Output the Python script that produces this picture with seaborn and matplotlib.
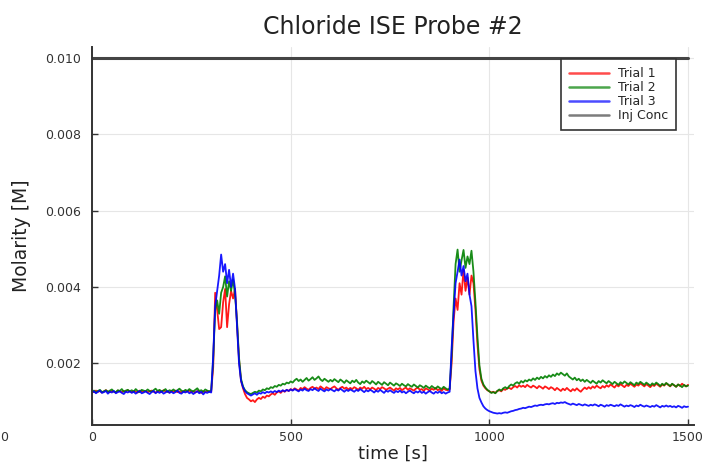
import numpy as np
import pandas as pd
import matplotlib
matplotlib.use("Agg")
import matplotlib.pyplot as plt
import seaborn as sns

# Sampling grid: one reading every 5 s over the 1500 s run
t_step = 5
t_end = 1500

# Chloride concentration readings in mmol/L, one list per trial
trial_1_mM = [
    1.27, 1.25, 1.29, 1.26, 1.28, 1.24, 1.27, 1.30, 1.26, 1.25,
    1.28, 1.26, 1.24, 1.29, 1.27, 1.25, 1.28, 1.26, 1.30, 1.27,
    1.25, 1.28, 1.26, 1.24, 1.29, 1.27, 1.26, 1.28, 1.25, 1.27,
    1.29, 1.26, 1.24, 1.27, 1.28, 1.25, 1.30, 1.27, 1.26, 1.24,
    1.28, 1.26, 1.29, 1.25, 1.27, 1.24, 1.28, 1.26, 1.27, 1.29,
    1.25, 1.27, 1.24, 1.28, 1.26, 1.23, 1.27, 1.25, 1.28, 1.26,
    1.27, 1.90, 3.85, 3.40, 2.90, 2.95, 3.60, 3.95, 2.95, 3.55,
    3.90, 3.70, 3.95, 3.00, 2.10, 1.55, 1.35, 1.20, 1.10, 1.06,
    1.01, 1.04, 0.99, 1.06, 1.10, 1.07, 1.13, 1.10, 1.16, 1.14,
    1.19, 1.22, 1.18, 1.24, 1.27, 1.23, 1.29, 1.26, 1.31, 1.28,
    1.33, 1.30, 1.35, 1.32, 1.29, 1.36, 1.33, 1.38, 1.34, 1.31,
    1.36, 1.39, 1.34, 1.37, 1.33, 1.40, 1.36, 1.32, 1.38, 1.35,
    1.33, 1.37, 1.40, 1.35, 1.31, 1.36, 1.39, 1.34, 1.37, 1.32,
    1.36, 1.33, 1.38, 1.35, 1.31, 1.37, 1.34, 1.39, 1.33, 1.36,
    1.32, 1.37, 1.34, 1.30, 1.36, 1.33, 1.38, 1.35, 1.31, 1.34,
    1.37, 1.33, 1.29, 1.35, 1.32, 1.36, 1.30, 1.34, 1.37, 1.31,
    1.35, 1.32, 1.29, 1.34, 1.37, 1.31, 1.33, 1.28, 1.35, 1.32,
    1.29, 1.34, 1.31, 1.36, 1.30, 1.33, 1.28, 1.35, 1.31, 1.30,
    1.32, 2.00, 3.10, 3.70, 3.40, 4.10, 3.80, 4.45, 3.90, 4.25,
    3.80, 4.30, 4.10, 3.40, 2.50, 1.85, 1.55, 1.42, 1.35, 1.30,
    1.27, 1.24, 1.26, 1.23, 1.28, 1.30, 1.27, 1.33, 1.31, 1.35,
    1.36, 1.33, 1.38, 1.41, 1.37, 1.43, 1.39, 1.42, 1.38, 1.44,
    1.40, 1.37, 1.42, 1.39, 1.35, 1.41, 1.38, 1.34, 1.40, 1.37,
    1.33, 1.38, 1.35, 1.30, 1.36, 1.32, 1.28, 1.34, 1.30, 1.36,
    1.31, 1.27, 1.33, 1.29, 1.35, 1.30, 1.26, 1.32, 1.37, 1.33,
    1.38, 1.34, 1.40, 1.36, 1.42, 1.38, 1.35, 1.41, 1.37, 1.43,
    1.39, 1.45, 1.41, 1.37, 1.44, 1.40, 1.46, 1.42, 1.38, 1.44,
    1.41, 1.47, 1.43, 1.39, 1.45, 1.42, 1.48, 1.44, 1.40, 1.46,
    1.42, 1.38, 1.44, 1.41, 1.47, 1.43, 1.39, 1.45, 1.42, 1.48,
    1.44, 1.40, 1.46, 1.43, 1.39, 1.45, 1.41, 1.47, 1.43, 1.40,
    1.44,
]

trial_2_mM = [
    1.26, 1.29, 1.24, 1.28, 1.31, 1.25, 1.27, 1.30, 1.26, 1.29,
    1.32, 1.27, 1.25, 1.30, 1.28, 1.33, 1.26, 1.29, 1.31, 1.27,
    1.30, 1.26, 1.33, 1.28, 1.25, 1.31, 1.29, 1.27, 1.32, 1.28,
    1.26, 1.30, 1.34, 1.28, 1.31, 1.27, 1.29, 1.33, 1.26, 1.30,
    1.28, 1.32, 1.27, 1.30, 1.34, 1.29, 1.26, 1.31, 1.28, 1.33,
    1.29, 1.27, 1.31, 1.35, 1.28, 1.30, 1.26, 1.32, 1.29, 1.27,
    1.30, 2.10, 3.40, 3.65, 3.30, 3.85, 4.00, 4.28, 3.75, 4.15,
    3.90, 4.20, 3.80, 3.10, 2.15, 1.60, 1.40, 1.30, 1.25, 1.22,
    1.20, 1.23, 1.26, 1.24, 1.29, 1.27, 1.32, 1.30, 1.35, 1.33,
    1.38, 1.36, 1.41, 1.39, 1.44, 1.42, 1.47, 1.45, 1.50, 1.48,
    1.53, 1.50, 1.56, 1.60, 1.54, 1.58, 1.52, 1.57, 1.62, 1.55,
    1.59, 1.64, 1.57, 1.61, 1.66, 1.58, 1.54, 1.60, 1.56, 1.52,
    1.57, 1.53, 1.59, 1.55, 1.51, 1.58, 1.54, 1.49, 1.56, 1.52,
    1.48, 1.55, 1.51, 1.57, 1.50, 1.46, 1.53, 1.49, 1.55, 1.51,
    1.47, 1.54, 1.50, 1.45, 1.52, 1.48, 1.44, 1.51, 1.47, 1.43,
    1.50, 1.46, 1.42, 1.48, 1.45, 1.41, 1.47, 1.43, 1.40, 1.46,
    1.42, 1.39, 1.45, 1.41, 1.37, 1.43, 1.40, 1.36, 1.42, 1.38,
    1.35, 1.41, 1.37, 1.34, 1.40, 1.36, 1.33, 1.39, 1.35, 1.32,
    1.34, 2.20, 3.50, 4.60, 4.98, 4.40, 4.70, 4.97, 4.50, 4.80,
    4.60, 4.95, 4.40, 3.60, 2.70, 1.95, 1.60, 1.45, 1.37, 1.31,
    1.27, 1.23, 1.25, 1.22, 1.28, 1.32, 1.29, 1.35, 1.38, 1.34,
    1.41, 1.45, 1.42, 1.48, 1.51, 1.47, 1.54, 1.50, 1.56, 1.53,
    1.58, 1.55, 1.61, 1.57, 1.63, 1.59, 1.65, 1.61, 1.67, 1.63,
    1.69, 1.65, 1.71, 1.67, 1.74, 1.70, 1.76, 1.72, 1.68, 1.74,
    1.66, 1.62, 1.58, 1.63, 1.56, 1.60, 1.54, 1.58, 1.52, 1.57,
    1.53, 1.49, 1.55, 1.51, 1.47, 1.54, 1.50, 1.56, 1.52, 1.48,
    1.54, 1.50, 1.46, 1.52, 1.48, 1.44, 1.51, 1.47, 1.53, 1.49,
    1.45, 1.51, 1.47, 1.43, 1.50, 1.46, 1.52, 1.48, 1.44, 1.50,
    1.46, 1.42, 1.48, 1.44, 1.50, 1.46, 1.41, 1.47, 1.43, 1.49,
    1.45, 1.41, 1.47, 1.43, 1.39, 1.45, 1.42, 1.38, 1.44, 1.40,
    1.42,
]

trial_3_mM = [
    1.24, 1.27, 1.22, 1.26, 1.29, 1.23, 1.25, 1.28, 1.21, 1.26,
    1.24, 1.28, 1.22, 1.25, 1.27, 1.23, 1.20, 1.26, 1.24, 1.27,
    1.23, 1.26, 1.21, 1.25, 1.28, 1.22, 1.24, 1.27, 1.23, 1.20,
    1.25, 1.28, 1.22, 1.26, 1.23, 1.27, 1.21, 1.24, 1.28, 1.23,
    1.26, 1.22, 1.25, 1.29, 1.23, 1.21, 1.26, 1.24, 1.27, 1.22,
    1.25, 1.20, 1.24, 1.27, 1.22, 1.26, 1.19, 1.25, 1.23, 1.26,
    1.24, 2.20, 3.50, 3.90, 4.30, 4.85, 4.40, 4.60, 4.10, 4.45,
    4.00, 4.35, 3.95, 3.00, 2.00, 1.55, 1.38, 1.28, 1.22, 1.19,
    1.16, 1.19, 1.22, 1.18, 1.23, 1.21, 1.25, 1.22, 1.26, 1.24,
    1.27, 1.24, 1.28, 1.25, 1.29, 1.26, 1.30, 1.27, 1.31, 1.28,
    1.32, 1.29, 1.33, 1.30, 1.27, 1.32, 1.29, 1.34, 1.30, 1.28,
    1.33, 1.30, 1.35, 1.31, 1.28, 1.34, 1.30, 1.27, 1.32, 1.29,
    1.33, 1.30, 1.27, 1.32, 1.29, 1.34, 1.30, 1.26, 1.31, 1.28,
    1.32, 1.29, 1.26, 1.31, 1.28, 1.33, 1.29, 1.25, 1.30, 1.27,
    1.31, 1.28, 1.24, 1.29, 1.26, 1.31, 1.27, 1.23, 1.29, 1.26,
    1.30, 1.26, 1.23, 1.28, 1.25, 1.29, 1.24, 1.27, 1.22, 1.26,
    1.29, 1.25, 1.22, 1.27, 1.24, 1.28, 1.23, 1.26, 1.21, 1.25,
    1.28, 1.24, 1.21, 1.26, 1.23, 1.27, 1.22, 1.25, 1.21, 1.24,
    1.26, 2.40, 3.30, 4.10, 4.40, 4.72, 4.30, 4.55, 4.15, 4.35,
    3.80, 3.50, 2.60, 1.80, 1.35, 1.10, 0.98, 0.88, 0.82, 0.78,
    0.75, 0.73, 0.71, 0.70, 0.69, 0.70, 0.69, 0.71, 0.72, 0.71,
    0.73, 0.75, 0.76, 0.78, 0.79, 0.81, 0.82, 0.84, 0.83, 0.85,
    0.87, 0.86, 0.88, 0.90, 0.89, 0.91, 0.92, 0.91, 0.93, 0.94,
    0.93, 0.95, 0.96, 0.94, 0.97, 0.96, 0.98, 0.97, 0.99, 0.96,
    0.94, 0.92, 0.95, 0.93, 0.91, 0.94, 0.92, 0.90, 0.93, 0.91,
    0.89, 0.92, 0.90, 0.93, 0.91, 0.88, 0.92, 0.90, 0.87, 0.91,
    0.89, 0.92, 0.90, 0.88, 0.91, 0.89, 0.93, 0.90, 0.87, 0.90,
    0.88, 0.91, 0.89, 0.86, 0.90, 0.88, 0.92, 0.89, 0.87, 0.90,
    0.88, 0.86, 0.89, 0.87, 0.91, 0.88, 0.85, 0.89, 0.87, 0.90,
    0.87, 0.89, 0.86, 0.88, 0.85, 0.89, 0.87, 0.84, 0.88, 0.86,
    0.87,
]

# Injected concentration (reference level), molar
inj_time_s = [0, 1500]
inj_conc_M = [0.010, 0.010]

series_names = ["Trial 1", "Trial 2", "Trial 3"]
series_colors = ["#ff0000", "#008000", "#0000ff"]

time_s = np.arange(0, t_end + t_step, t_step)

frames = []
for name, values in zip(series_names, [trial_1_mM, trial_2_mM, trial_3_mM]):
    frames.append(pd.DataFrame({
        "time": time_s,
        "molarity": np.asarray(values) * 1e-3,
        "series": name,
    }))
trials = pd.concat(frames, ignore_index=True)
inj = pd.DataFrame({"time": inj_time_s, "molarity": inj_conc_M, "series": "Inj Conc"})

sns.set_theme(style="white")
plt.rcParams["font.family"] = ["DejaVu Sans"]

W, H = 703, 473
fig = plt.figure(figsize=(W / 100, H / 100), dpi=100)
ax = fig.add_axes([92 / W, 1 - 425 / H, (694 - 92) / W, (425 - 47) / H])

sns.lineplot(data=trials, x="time", y="molarity", hue="series",
             palette=dict(zip(series_names, series_colors)),
             estimator=None, sort=False, linewidth=1.3, alpha=0.9, ax=ax)
sns.lineplot(data=inj, x="time", y="molarity", color="#444444",
             linewidth=2.2, label="Inj Conc", ax=ax)

ax.set_xlim(0, 1515)
ax.set_ylim(0.00039, 0.01028)
ax.set_xticks([0, 500, 1000, 1500])
ax.set_yticks([0.002, 0.004, 0.006, 0.008, 0.010])
ax.set_yticklabels(["0.002", "0.004", "0.006", "0.008", "0.010"])

ax.grid(True, color="#e6e6e6", linewidth=0.8)
for side in ["top", "right"]:
    ax.spines[side].set_visible(False)
for side in ["left", "bottom"]:
    ax.spines[side].set_color("#333333")
    ax.spines[side].set_linewidth(1.4)
ax.tick_params(axis="both", direction="in", length=4, width=1.0, color="#333333",
               labelsize=9, labelcolor="#333333")
ax.tick_params(axis="y", left=True, pad=8)
ax.tick_params(axis="x", bottom=True, pad=4)

ax.set_title("Chloride ISE Probe #2", fontsize=17, color="#222222", pad=9)
ax.set_xlabel("time [s]", fontsize=13, color="#222222", labelpad=1)
ax.set_ylabel("Molarity [M]", fontsize=13.5, color="#222222", labelpad=10)

handles, labels = ax.get_legend_handles_labels()
leg = ax.legend(handles, labels, loc="upper right",
                bbox_to_anchor=((676 - 92) / 602, (425 - 59) / 378),
                fontsize=9, frameon=True, fancybox=False, framealpha=1.0,
                edgecolor="#333333", handlelength=3.2, handletextpad=0.7,
                borderpad=0.65, labelspacing=0.08, borderaxespad=0.0)
leg.get_frame().set_linewidth(1.2)
for line in leg.get_lines():
    line.set_linewidth(1.8)
    line.set_alpha(0.7)

# Edge of a neighbouring panel's x-axis tick label
fig.text(0.5 / W, 1 - 437 / H, "0", ha="left", va="center", fontsize=9, color="#333333")

fig.savefig("out.png", dpi=100)
